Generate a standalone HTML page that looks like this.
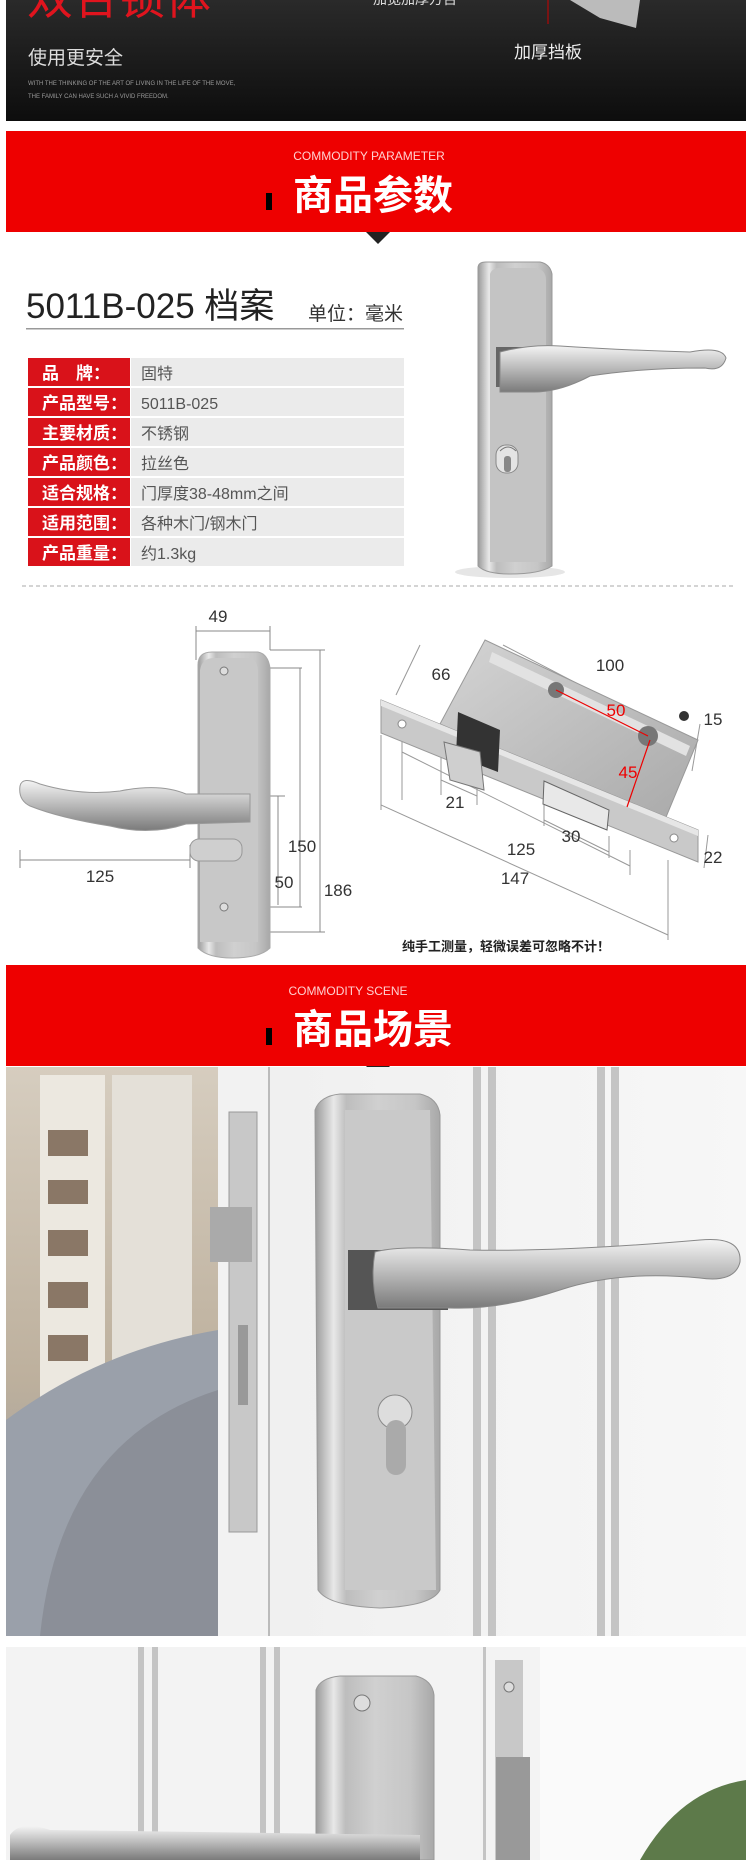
<!DOCTYPE html>
<html><head><meta charset="utf-8"><style>
html,body{margin:0;padding:0;background:#fff;width:750px;height:1860px;overflow:hidden}
svg{display:block}
text{font-family:"Liberation Sans","Noto Sans CJK SC",sans-serif}
</style></head><body>
<svg width="750" height="1860" viewBox="0 0 750 1860" xmlns="http://www.w3.org/2000/svg">
<defs>
<linearGradient id="dark" x1="0" y1="0" x2="0" y2="1"><stop offset="0" stop-color="#2a2a2a"/><stop offset="1" stop-color="#0d0d0d"/></linearGradient>
<linearGradient id="steel" x1="0" y1="0" x2="1" y2="0"><stop offset="0" stop-color="#9a9a9a"/><stop offset=".15" stop-color="#e8e8e8"/><stop offset=".25" stop-color="#bdbdbd"/><stop offset=".5" stop-color="#d0d0d0"/><stop offset=".8" stop-color="#c6c6c6"/><stop offset="1" stop-color="#a8a8a8"/></linearGradient>
<linearGradient id="hand" x1="0" y1="0" x2="0" y2="1"><stop offset="0" stop-color="#f4f4f4"/><stop offset=".5" stop-color="#b8b8b8"/><stop offset="1" stop-color="#7a7a7a"/></linearGradient>
<linearGradient id="room" x1="0" y1="0" x2="0" y2="1"><stop offset="0" stop-color="#d6cdbf"/><stop offset=".55" stop-color="#bdb09d"/><stop offset="1" stop-color="#8c93a0"/></linearGradient>
<linearGradient id="door" x1="0" y1="0" x2="1" y2="0"><stop offset="0" stop-color="#ececec"/><stop offset="1" stop-color="#f7f7f7"/></linearGradient>
<linearGradient id="box" x1="0" y1="0" x2="1" y2="1"><stop offset="0" stop-color="#d4d4d4"/><stop offset="1" stop-color="#a9a9a9"/></linearGradient>
</defs>

<!-- top dark band -->
<rect x="6" y="0" width="740" height="121" fill="url(#dark)"/>
<text x="27" y="14" font-size="46" fill="#e0141e">双合锁体</text>
<text x="28" y="64" font-size="19" fill="#ddd">使用更安全</text>
<text x="28" y="85" font-size="6" fill="#999" font-family="Liberation Serif,serif">WITH THE THINKING OF THE ART OF LIVING IN THE LIFE OF THE MOVE,</text>
<text x="28" y="98" font-size="6" fill="#999" font-family="Liberation Serif,serif">THE FAMILY CAN HAVE SUCH A VIVID FREEDOM.</text>
<text x="373" y="4" font-size="14" fill="#ddd">加宽加厚方舌</text>
<line x1="548" y1="0" x2="548" y2="24" stroke="#c00" stroke-width="1"/>
<polygon points="570,0 640,0 636,28 600,18" fill="#bbb"/>
<text x="514" y="58" font-size="17" fill="#eee">加厚挡板</text>

<!-- red band 1 -->
<rect x="6" y="131" width="740" height="101" fill="#ee0000"/>
<text x="369" y="160" font-size="12" fill="#ffd0d0" text-anchor="middle">COMMODITY PARAMETER</text>
<rect x="266" y="193" width="6" height="17" fill="#000"/>
<text x="293" y="209" font-size="40" font-weight="bold" fill="#fff">商品参数</text>
<polygon points="366,232 390,232 378,244" fill="#222"/>

<!-- title -->
<text x="26" y="318" font-size="35" fill="#222">5011B-025 档案</text>
<text x="308" y="320" font-size="19" fill="#333">单位：毫米</text>
<rect x="26" y="328" width="378" height="1.5" fill="#999"/>

<!-- table -->
<g font-size="17">
<rect x="28" y="358" width="102" height="28" fill="#d9121a"/><rect x="131" y="358" width="273" height="28" fill="#ebebeb"/>
<rect x="28" y="388" width="102" height="28" fill="#d9121a"/><rect x="131" y="388" width="273" height="28" fill="#ebebeb"/>
<rect x="28" y="418" width="102" height="28" fill="#d9121a"/><rect x="131" y="418" width="273" height="28" fill="#ebebeb"/>
<rect x="28" y="448" width="102" height="28" fill="#d9121a"/><rect x="131" y="448" width="273" height="28" fill="#ebebeb"/>
<rect x="28" y="478" width="102" height="28" fill="#d9121a"/><rect x="131" y="478" width="273" height="28" fill="#ebebeb"/>
<rect x="28" y="508" width="102" height="28" fill="#d9121a"/><rect x="131" y="508" width="273" height="28" fill="#ebebeb"/>
<rect x="28" y="538" width="102" height="28" fill="#d9121a"/><rect x="131" y="538" width="273" height="28" fill="#ebebeb"/>
<g fill="#fff" font-weight="bold">
<text x="42" y="379">品　牌：</text><text x="42" y="409">产品型号：</text><text x="42" y="439">主要材质：</text><text x="42" y="469">产品颜色：</text><text x="42" y="499">适合规格：</text><text x="42" y="529">适用范围：</text><text x="42" y="559">产品重量：</text>
</g>
<g fill="#555" font-size="16">
<text x="141" y="379">固特</text><text x="141" y="409">5011B-025</text><text x="141" y="439">不锈钢</text><text x="141" y="469">拉丝色</text><text x="141" y="499">门厚度38-48mm之间</text><text x="141" y="529">各种木门/钢木门</text><text x="141" y="559">约1.3kg</text>
</g>
</g>

<!-- lever product image -->
<ellipse cx="510" cy="572" rx="55" ry="6" fill="#e6e6e6"/>
<path d="M478,268 Q478,262 486,262 L540,262 Q550,264 552,274 L552,566 Q540,574 510,574 Q486,574 478,566 Z" fill="url(#steel)" stroke="#999"/>
<path d="M490,274 Q492,268 500,268 L536,268 Q546,270 546,280 L546,562 L490,562 Z" fill="#c4c4c4"/>
<rect x="496" y="445" width="22" height="28" rx="10" fill="#e4e4e4" stroke="#888"/>
<rect x="504" y="456" width="7" height="16" rx="3" fill="#888"/>
<path d="M500,451 q8,-8 16,0" fill="none" stroke="#777"/>
<rect x="496" y="347" width="30" height="40" fill="#666"/>
<path d="M500,352 Q530,344 560,346 Q620,350 690,352 Q722,346 726,358 Q722,372 705,368 Q640,368 590,376 Q560,392 534,392 L500,392 Z" fill="url(#hand)" stroke="#888"/>

<!-- dashed -->
<line x1="22" y1="586" x2="733" y2="586" stroke="#bbb" stroke-width="1.2" stroke-dasharray="4,3"/>

<!-- diagram left -->
<g fill="none" stroke="#888" stroke-width="1">
<line x1="196" y1="631" x2="270" y2="631"/><line x1="196" y1="626" x2="196" y2="660"/><line x1="270" y1="626" x2="270" y2="650"/>
<line x1="270" y1="650" x2="325" y2="650"/>
<line x1="320" y1="650" x2="320" y2="932"/><line x1="262" y1="932" x2="325" y2="932"/>
<line x1="224" y1="668" x2="302" y2="668"/><line x1="300" y1="668" x2="300" y2="907"/><line x1="224" y1="907" x2="302" y2="907"/>
<line x1="240" y1="796" x2="285" y2="796"/><line x1="278" y1="796" x2="278" y2="905"/>
<line x1="20" y1="860" x2="190" y2="860"/><line x1="20" y1="850" x2="20" y2="868"/><line x1="190" y1="845" x2="190" y2="868"/>
</g>
<path d="M198,665 Q198,652 212,652 L258,652 Q268,654 270,668 L270,948 Q260,958 232,958 Q208,958 198,948 Z" fill="url(#steel)" stroke="#aaa"/>
<path d="M200,670 Q202,658 214,658 L250,658 Q258,660 258,672 L258,942 L200,942 Z" fill="#c8c8c8"/>
<circle cx="224" cy="671" r="4" fill="#ddd" stroke="#777"/><circle cx="224" cy="907" r="4" fill="#ddd" stroke="#777"/>
<rect x="190" y="839" width="52" height="22" rx="9" fill="#cfcfcf" stroke="#999"/>
<path d="M20,786 Q22,776 40,784 Q80,796 120,791 Q160,783 186,794 L250,794 L250,822 L186,824 Q150,836 110,826 Q60,818 30,806 Q18,800 20,786 Z" fill="url(#hand)" stroke="#999"/>
<g font-size="17" fill="#333">
<text x="218" y="622" text-anchor="middle">49</text>
<text x="100" y="882" text-anchor="middle">125</text>
<text x="302" y="852" text-anchor="middle">150</text>
<text x="284" y="888" text-anchor="middle">50</text>
<text x="338" y="896" text-anchor="middle">186</text>
</g>

<!-- mortise lock -->
<g fill="none" stroke="#999">
<line x1="420" y1="645" x2="396" y2="695"/>
<line x1="503" y1="645" x2="686" y2="740"/>
<line x1="700" y1="724" x2="692" y2="771"/>
<line x1="708" y1="835" x2="704" y2="868"/>
<line x1="402" y1="740" x2="402" y2="800"/><line x1="402" y1="752" x2="630" y2="866"/><line x1="630" y1="850" x2="630" y2="875"/>
<line x1="381" y1="735" x2="381" y2="810"/><line x1="381" y1="805" x2="668" y2="935"/><line x1="668" y1="860" x2="668" y2="940"/>
<line x1="441" y1="750" x2="441" y2="795"/><line x1="477" y1="765" x2="477" y2="805"/><line x1="441" y1="780" x2="477" y2="796"/>
<line x1="544" y1="805" x2="544" y2="826"/><line x1="609" y1="836" x2="609" y2="858"/><line x1="544" y1="820" x2="609" y2="852"/>
</g>
<polygon points="485,640 698,740 664,822 440,724" fill="url(#box)" stroke="#999"/>
<polygon points="492,652 690,746 686,756 489,662" fill="#e2e2e2"/>
<polygon points="381,700 698,830 698,862 381,733" fill="#c9c9c9" stroke="#999"/>
<polygon points="381,700 698,830 698,836 381,706" fill="#e6e6e6"/>
<polygon points="458,712 500,730 498,772 456,756" fill="#333"/>
<polygon points="444,742 480,752 484,790 450,780" fill="#cfcfcf" stroke="#777"/>
<polygon points="544,781 609,810 607,830 543,804" fill="#e8e8e8" stroke="#666"/>
<circle cx="402" cy="724" r="4" fill="#fff" stroke="#888"/><circle cx="674" cy="838" r="4" fill="#fff" stroke="#888"/>
<circle cx="556" cy="690" r="8" fill="#777"/><circle cx="648" cy="736" r="10" fill="#777"/><circle cx="684" cy="716" r="5" fill="#333"/>
<line x1="556" y1="690" x2="648" y2="736" stroke="#e00" stroke-width="1.2"/>
<line x1="650" y1="740" x2="627" y2="807" stroke="#e00" stroke-width="1.2"/>
<g font-size="17" fill="#333">
<text x="441" y="680" text-anchor="middle">66</text>
<text x="610" y="671" text-anchor="middle">100</text>
<text x="616" y="716" text-anchor="middle" fill="#e00">50</text>
<text x="713" y="725" text-anchor="middle">15</text>
<text x="628" y="778" text-anchor="middle" fill="#e00">45</text>
<text x="455" y="808" text-anchor="middle">21</text>
<text x="571" y="842" text-anchor="middle">30</text>
<text x="521" y="855" text-anchor="middle">125</text>
<text x="515" y="884" text-anchor="middle">147</text>
<text x="713" y="863" text-anchor="middle">22</text>
</g>
<text x="402" y="951" font-size="13" font-weight="bold" fill="#222">纯手工测量，轻微误差可忽略不计！</text>

<!-- red band 2 -->
<rect x="6" y="965" width="740" height="101" fill="#ee0000"/>
<text x="348" y="995" font-size="12" fill="#ffd0d0" text-anchor="middle">COMMODITY SCENE</text>
<rect x="266" y="1028" width="6" height="17" fill="#000"/>
<text x="293" y="1043" font-size="40" font-weight="bold" fill="#fff">商品场景</text>
<polygon points="366,1066 390,1066 378,1078" fill="#222"/>

<!-- photo 1 -->
<rect x="6" y="1067" width="740" height="569" fill="url(#door)"/>
<rect x="6" y="1067" width="212" height="569" fill="url(#room)"/>
<rect x="40" y="1075" width="65" height="360" fill="#ece8e0"/>
<g fill="#8a7766"><rect x="48" y="1130" width="40" height="26"/><rect x="48" y="1180" width="40" height="24"/><rect x="48" y="1230" width="40" height="26"/><rect x="48" y="1282" width="40" height="26"/><rect x="48" y="1335" width="40" height="26"/></g>
<rect x="112" y="1075" width="80" height="320" fill="#e4e0d8"/>
<path d="M6,1420 Q100,1350 218,1330 L218,1636 L6,1636 Z" fill="#9aa0aa"/>
<path d="M40,1636 Q60,1440 218,1390 L218,1636 Z" fill="#8b8f98"/>
<rect x="218" y="1067" width="52" height="569" fill="#f2f2f2"/>
<rect x="229" y="1112" width="28" height="420" fill="#c8c8c8" stroke="#999"/>
<rect x="210" y="1207" width="42" height="55" fill="#aaa"/>
<rect x="238" y="1325" width="10" height="80" fill="#999"/>
<rect x="268" y="1067" width="2" height="569" fill="#bbb"/>
<g fill="#c4c4c4"><rect x="473" y="1067" width="8" height="569"/><rect x="488" y="1067" width="8" height="569"/><rect x="597" y="1067" width="8" height="569"/><rect x="611" y="1067" width="8" height="569"/></g>
<path d="M315,1110 Q320,1096 340,1094 L420,1094 Q438,1098 440,1115 L440,1590 Q432,1606 380,1608 Q328,1606 318,1590 Z" fill="url(#steel)" stroke="#999"/>
<path d="M345,1110 L430,1110 L436,1590 L345,1590 Z" fill="#c9c9c9"/>
<rect x="348" y="1250" width="100" height="60" fill="#555"/>
<path d="M375,1252 Q400,1245 470,1250 Q560,1252 700,1240 Q742,1236 740,1262 Q735,1283 700,1278 Q620,1270 560,1290 Q500,1310 450,1308 L378,1308 Q370,1280 375,1252 Z" fill="url(#hand)" stroke="#888"/>
<circle cx="395" cy="1412" r="17" fill="#ddd" stroke="#888"/>
<rect x="386" y="1420" width="20" height="55" rx="10" fill="#aaa"/>

<!-- photo 2 -->
<rect x="6" y="1647" width="740" height="213" fill="#f3f3f3"/>
<rect x="540" y="1647" width="206" height="213" fill="#fafafa"/>
<g fill="#c4c4c4"><rect x="138" y="1647" width="6" height="213"/><rect x="152" y="1647" width="6" height="213"/><rect x="260" y="1647" width="6" height="213"/><rect x="274" y="1647" width="6" height="213"/><rect x="483" y="1647" width="3" height="213"/></g>
<path d="M316,1690 Q320,1678 340,1676 L416,1676 Q432,1680 434,1695 L434,1860 L316,1860 Z" fill="url(#steel)" stroke="#999"/>
<circle cx="362" cy="1703" r="8" fill="#ddd" stroke="#777"/>
<rect x="495" y="1660" width="28" height="200" fill="#c8c8c8"/>
<circle cx="509" cy="1687" r="5" fill="#ddd" stroke="#777"/>
<rect x="496" y="1757" width="34" height="103" fill="#999"/>
<path d="M10,1835 Q20,1820 50,1830 L420,1835 L420,1860 L10,1860 Z" fill="url(#hand)"/>
<path d="M640,1860 Q680,1790 746,1780 L746,1860 Z" fill="#5d7a4a"/>
</svg>
</body></html>
